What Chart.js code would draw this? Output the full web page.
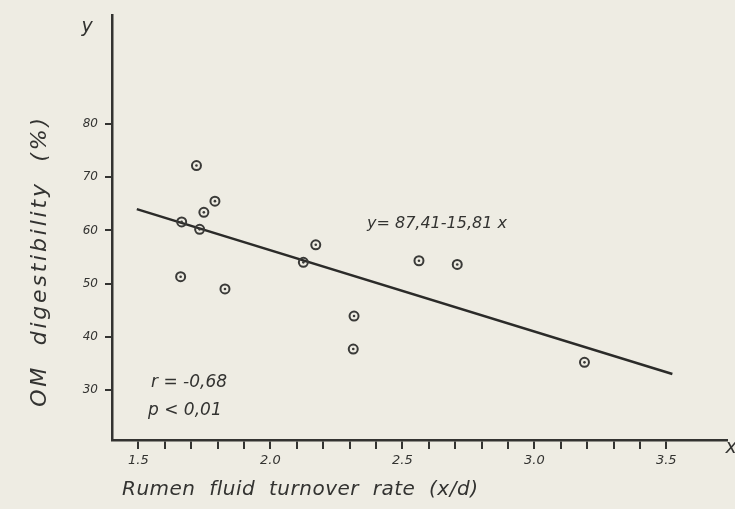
<!DOCTYPE html>
<html lang="en">
<head>
    <meta charset="UTF-8">
    <script src="https://cdn.jsdelivr.net/npm/chart.js"></script>
    <title>OM digestibility vs rumen fluid turnover</title>
    <style>
        body { margin: 0; background: #eeece3; }
        .box { position: relative; width: 735px; height: 509px; }
    </style>
</head>
<body>
    <div class="box">
        <canvas id="myChart"></canvas>
    </div>

<script>
    // data
    var turnover = [1.72, 1.79, 1.748, 1.664, 1.732, 2.172, 2.125, 1.66, 1.828, 2.563, 2.708, 2.317, 2.314, 3.19];
    var digestibility = [72.2, 65.5, 63.4, 61.6, 60.2, 57.3, 54.0, 51.3, 49.0, 54.3, 53.6, 43.9, 37.7, 35.2];

    // regression line ends (y = 87.41 - 15.81x)
    var lineX = [1.494, 3.523];
    var lineY = [64.0, 33.0];

    var xTicks = [1.5, 1.6, 1.7, 1.8, 1.9, 2.0, 2.1, 2.2, 2.3, 2.4, 2.5, 2.6, 2.7, 2.8, 2.9, 3.0, 3.1, 3.2, 3.3, 3.4, 3.5];
    var xLabels = { '1.5': '1.5', '2.0': '2.0', '2.5': '2.5', '3.0': '3.0', '3.5': '3.5' };
    var yTicks = [30, 40, 50, 60, 70, 80];

    var ink = '#333331';
    var pts = turnover.map(function (x, i) { return { x: x, y: digestibility[i] }; });
    var line = lineX.map(function (x, i) { return { x: x, y: lineY[i] }; });

    var textPlugin = {
        id: 'handText',
        afterDraw: function (chart) {
            var ctx = chart.ctx;
            ctx.save();
            ctx.fillStyle = ink;
            ctx.textBaseline = 'middle';

            // y axis title
            ctx.save();
            ctx.translate(40, 261);
            ctx.rotate(-Math.PI / 2);
            ctx.textAlign = 'center';
            ctx.font = 'italic 22px "DejaVu Sans"';
            ctx.letterSpacing = '2.8px';
            ctx.fillText('OM  digestibility  (%)', 0, 0);
            ctx.restore();

            // x axis title
            ctx.textAlign = 'left';
            ctx.font = 'italic 20px "DejaVu Sans"';
            ctx.letterSpacing = '0.5px';
            ctx.fillText('Rumen  fluid  turnover  rate  (x/d)', 122, 490);
            ctx.letterSpacing = '0px';

            // axis letters
            ctx.font = 'italic 19px "DejaVu Sans"';
            ctx.textAlign = 'center';
            ctx.fillText('y', 87, 27);
            ctx.fillText('x', 731, 448);

            // equation + stats
            ctx.textAlign = 'left';
            ctx.font = 'italic 16px "DejaVu Sans"';
            ctx.fillText('y= 87,41-15,81 x', 367, 224);
            ctx.font = 'italic 17px "DejaVu Sans"';
            ctx.fillText('r = -0,68', 151, 383);
            ctx.fillText('p < 0,01', 148, 411);
            ctx.restore();
        }
    };

    const config = {
        type: 'scatter',
        data: {
            datasets: [{
                data: pts,
                pointRadius: 4.5,
                borderWidth: 2,
                borderColor: '#3a3a38',
                backgroundColor: 'rgba(0,0,0,0)'
            }, {
                data: pts,
                pointRadius: 1.3,
                borderWidth: 0,
                backgroundColor: '#3a3a38'
            }, {
                data: line,
                showLine: true,
                pointRadius: 0,
                borderWidth: 2.5,
                borderColor: '#2b2b29'
            }]
        },
        options: {
            responsive: true,
            maintainAspectRatio: false,
            animation: false,
            layout: { padding: { top: 15, right: 8, left: 0, bottom: 0 } },
            plugins: {
                legend: { display: false },
                tooltip: { enabled: false }
            },
            scales: {
                x: {
                    type: 'linear',
                    min: 1.40,
                    max: 3.73,
                    afterFit: function (s) { s.height = 69; },
                    afterBuildTicks: function (s) {
                        s.ticks = xTicks.map(function (v) { return { value: v }; });
                    },
                    ticks: {
                        autoSkip: false,
                        maxRotation: 0,
                        padding: 4,
                        color: ink,
                        font: { family: 'DejaVu Sans', size: 13, style: 'italic' },
                        callback: function (v) { return xLabels[v.toFixed(1)] || ''; }
                    },
                    grid: { drawOnChartArea: false, tickLength: 9, color: ink, lineWidth: 2 },
                    border: { color: ink, width: 2.5 }
                },
                y: {
                    min: 20.6,
                    max: 100.5,
                    afterFit: function (s) { s.width = 112; },
                    afterBuildTicks: function (s) {
                        s.ticks = yTicks.map(function (v) { return { value: v }; });
                    },
                    ticks: {
                        padding: 7,
                        color: ink,
                        font: { family: 'DejaVu Sans', size: 12, style: 'italic' },
                        callback: function (v) { return String(v); }
                    },
                    grid: { drawOnChartArea: false, tickLength: 7, color: ink, lineWidth: 2 },
                    border: { color: ink, width: 2.5 }
                }
            }
        },
        plugins: [textPlugin]
    };

    const myChart = new Chart(document.getElementById('myChart'), config);
</script>
</body>
</html>
